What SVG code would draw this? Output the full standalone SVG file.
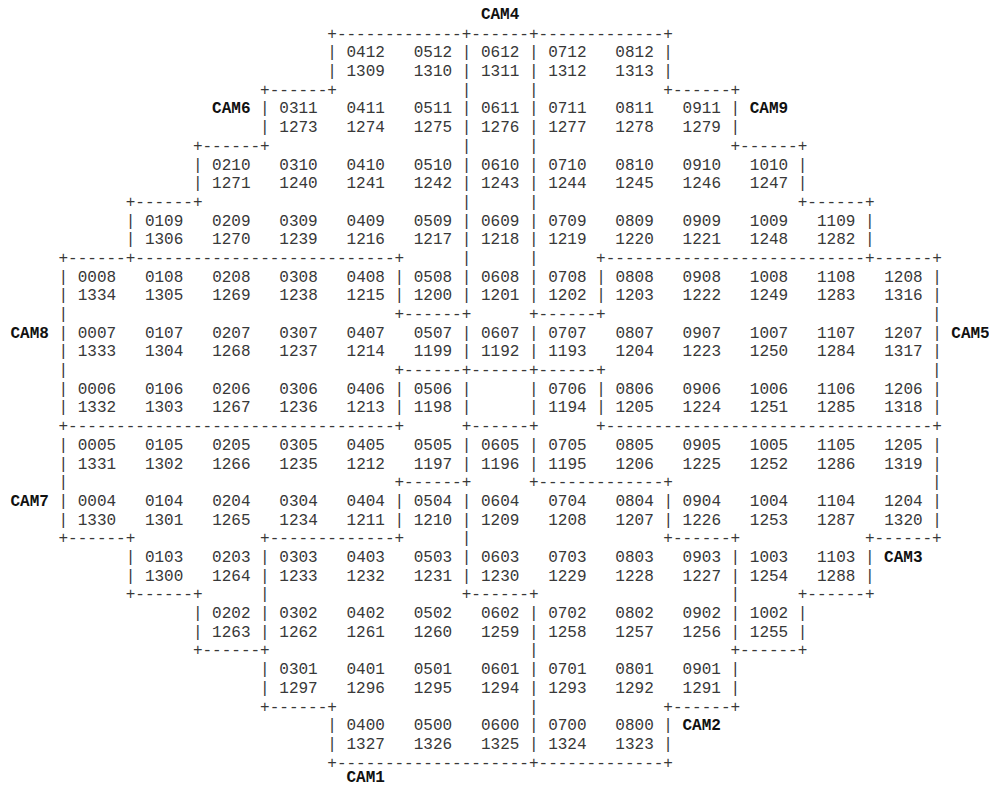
<svg xmlns="http://www.w3.org/2000/svg" width="989" height="787" viewBox="0 0 989 787">
<style>
text { font-family: "Liberation Mono", "Courier New", monospace; font-size: 16px; fill: #383838; white-space: pre; }
.cam { font-weight: bold; fill: #111; }
</style>
<rect x="0" y="0" width="989" height="787" fill="#fff"/>
<g id="borders" xml:space="preserve">
<text x="327.3" y="38.69">+-------------+------+-------------+</text>
<text y="94.76"><tspan x="260.1">+------+</tspan><tspan x="461.7">|</tspan><tspan x="528.9">|</tspan><tspan x="663.3">+------+</tspan></text>
<text y="150.83"><tspan x="192.9">+------+</tspan><tspan x="461.7">|</tspan><tspan x="528.9">|</tspan><tspan x="730.5">+------+</tspan></text>
<text y="206.9"><tspan x="125.7">+------+</tspan><tspan x="461.7">|</tspan><tspan x="528.9">|</tspan><tspan x="797.7">+------+</tspan></text>
<text y="262.97"><tspan x="58.5">+------+---------------------------+</tspan><tspan x="461.7">|</tspan><tspan x="528.9">|</tspan><tspan x="596.1">+---------------------------+------+</tspan></text>
<text y="319.04"><tspan x="58.5">|</tspan><tspan x="394.5">+------+</tspan><tspan x="528.9">+------+</tspan><tspan x="932.1">|</tspan></text>
<text y="375.11"><tspan x="58.5">|</tspan><tspan x="394.5">+------+------+------+</tspan><tspan x="932.1">|</tspan></text>
<text y="431.18"><tspan x="58.5">+----------------------------------+</tspan><tspan x="461.7">+------+</tspan><tspan x="596.1">+----------------------------------+</tspan></text>
<text y="487.25"><tspan x="58.5">|</tspan><tspan x="394.5">+------+</tspan><tspan x="528.9">+-------------+</tspan><tspan x="932.1">|</tspan></text>
<text y="543.32"><tspan x="58.5">+------+</tspan><tspan x="260.1">+-------------+</tspan><tspan x="461.7">|</tspan><tspan x="663.3">+------+</tspan><tspan x="864.9">+------+</tspan></text>
<text y="599.39"><tspan x="125.7">+------+</tspan><tspan x="260.1">|</tspan><tspan x="461.7">+------+</tspan><tspan x="730.5">|</tspan><tspan x="797.7">+------+</tspan></text>
<text y="655.46"><tspan x="192.9">+------+</tspan><tspan x="528.9">|</tspan><tspan x="730.5">+------+</tspan></text>
<text y="711.53"><tspan x="260.1">+------+</tspan><tspan x="528.9">|</tspan><tspan x="663.3">+------+</tspan></text>
<text x="327.3" y="767.6">+--------------------+-------------+</text>
</g>
<g id="rows" xml:space="preserve">
<g id="row12">
<text x="327.3" y="57.38">| 0412   0512 | 0612 | 0712   0812 |</text>
<text x="327.3" y="76.07">| 1309   1310 | 1311 | 1312   1313 |</text>
</g>
<g id="row11">
<text x="260.1" y="113.45">| 0311   0411   0511 | 0611 | 0711   0811   0911 |</text>
<text x="260.1" y="132.14">| 1273   1274   1275 | 1276 | 1277   1278   1279 |</text>
</g>
<g id="row10">
<text x="192.9" y="169.52">| 0210   0310   0410   0510 | 0610 | 0710   0810   0910   1010 |</text>
<text x="192.9" y="188.21">| 1271   1240   1241   1242 | 1243 | 1244   1245   1246   1247 |</text>
</g>
<g id="row09">
<text x="125.7" y="225.59">| 0109   0209   0309   0409   0509 | 0609 | 0709   0809   0909   1009   1109 |</text>
<text x="125.7" y="244.28">| 1306   1270   1239   1216   1217 | 1218 | 1219   1220   1221   1248   1282 |</text>
</g>
<g id="row08">
<text x="58.5" y="281.66">| 0008   0108   0208   0308   0408 | 0508 | 0608 | 0708 | 0808   0908   1008   1108   1208 |</text>
<text x="58.5" y="300.35">| 1334   1305   1269   1238   1215 | 1200 | 1201 | 1202 | 1203   1222   1249   1283   1316 |</text>
</g>
<g id="row07">
<text x="58.5" y="337.73">| 0007   0107   0207   0307   0407   0507 | 0607 | 0707   0807   0907   1007   1107   1207 |</text>
<text x="58.5" y="356.42">| 1333   1304   1268   1237   1214   1199 | 1192 | 1193   1204   1223   1250   1284   1317 |</text>
</g>
<g id="row06">
<text x="58.5" y="393.8">| 0006   0106   0206   0306   0406 | 0506 |      | 0706 | 0806   0906   1006   1106   1206 |</text>
<text x="58.5" y="412.49">| 1332   1303   1267   1236   1213 | 1198 |      | 1194 | 1205   1224   1251   1285   1318 |</text>
</g>
<g id="row05">
<text x="58.5" y="449.87">| 0005   0105   0205   0305   0405   0505 | 0605 | 0705   0805   0905   1005   1105   1205 |</text>
<text x="58.5" y="468.56">| 1331   1302   1266   1235   1212   1197 | 1196 | 1195   1206   1225   1252   1286   1319 |</text>
</g>
<g id="row04">
<text x="58.5" y="505.94">| 0004   0104   0204   0304   0404 | 0504 | 0604   0704   0804 | 0904   1004   1104   1204 |</text>
<text x="58.5" y="524.63">| 1330   1301   1265   1234   1211 | 1210 | 1209   1208   1207 | 1226   1253   1287   1320 |</text>
</g>
<g id="row03">
<text x="125.7" y="562.01">| 0103   0203 | 0303   0403   0503 | 0603   0703   0803   0903 | 1003   1103 |</text>
<text x="125.7" y="580.7">| 1300   1264 | 1233   1232   1231 | 1230   1229   1228   1227 | 1254   1288 |</text>
</g>
<g id="row02">
<text x="192.9" y="618.08">| 0202 | 0302   0402   0502   0602 | 0702   0802   0902 | 1002 |</text>
<text x="192.9" y="636.77">| 1263 | 1262   1261   1260   1259 | 1258   1257   1256 | 1255 |</text>
</g>
<g id="row01">
<text x="260.1" y="674.15">| 0301   0401   0501   0601 | 0701   0801   0901 |</text>
<text x="260.1" y="692.84">| 1297   1296   1295   1294 | 1293   1292   1291 |</text>
</g>
<g id="row00">
<text x="327.3" y="730.22">| 0400   0500   0600 | 0700   0800 |</text>
<text x="327.3" y="748.91">| 1327   1326   1325 | 1324   1323 |</text>
</g>
</g>
<g id="cameras">
<text id="cam4" class="cam" x="480.9" y="19">CAM4</text>
<text id="cam6" class="cam" x="212.1" y="113.45">CAM6</text>
<text id="cam9" class="cam" x="749.7" y="113.45">CAM9</text>
<text id="cam8" class="cam" x="10.5" y="337.73">CAM8</text>
<text id="cam5" class="cam" x="951.3" y="337.73">CAM5</text>
<text id="cam7" class="cam" x="10.5" y="505.94">CAM7</text>
<text id="cam3" class="cam" x="884.1" y="562.01">CAM3</text>
<text id="cam2" class="cam" x="682.5" y="730.22">CAM2</text>
<text id="cam1" class="cam" x="346.5" y="782">CAM1</text>
</g>
</svg>
